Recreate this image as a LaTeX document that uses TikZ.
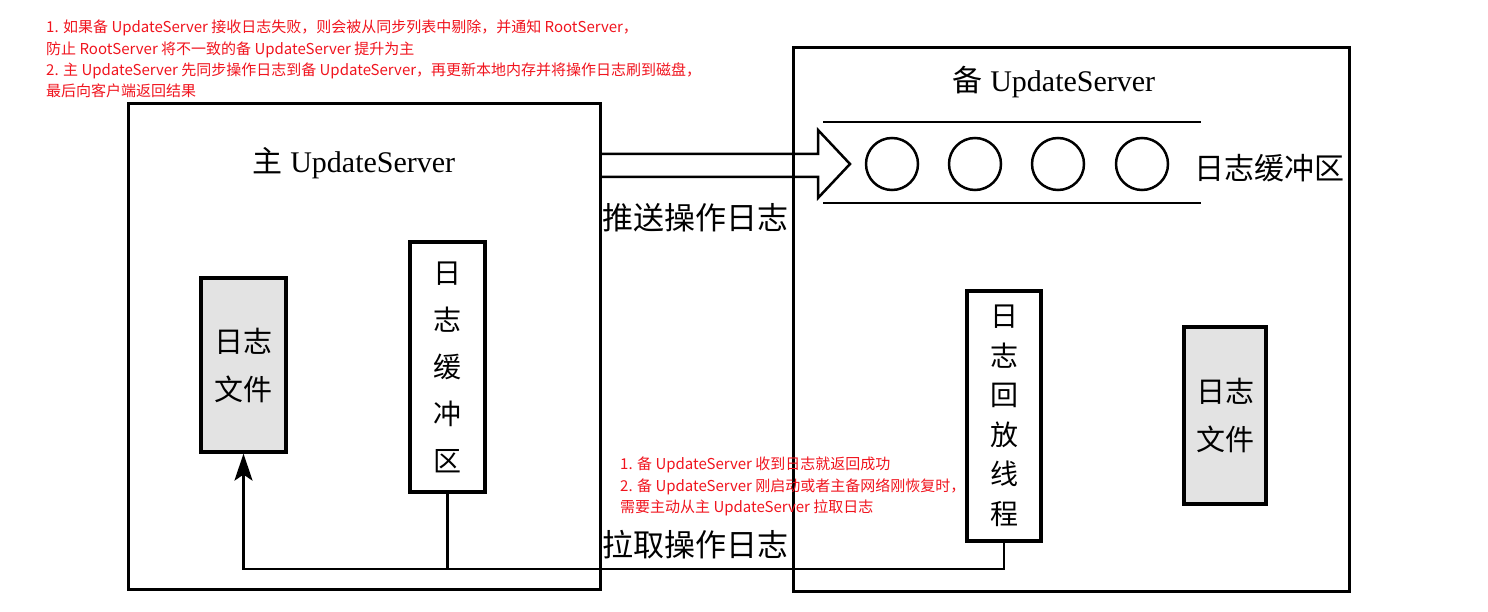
\documentclass[tikz,border=0pt]{standalone}
\usepackage{fontspec}
\setmainfont{Liberation Serif}
\newfontfamily\cjk{Noto Sans CJK SC}
\usetikzlibrary{arrows.meta}
\definecolor{notered}{RGB}{240,20,30}
\definecolor{filegray}{RGB}{227,227,227}
\newcommand{\setsz}[2]{\fontsize{#1}{#2}\selectfont}
\begin{document}
\begin{tikzpicture}[x=1pt,y=-1pt,
    server/.style={draw,line width=3pt,inner sep=0pt},
    part/.style={draw,line width=3.2pt,inner sep=0pt,align=center,font={\cjk\setsz{28}{47}}},
    logfile/.style={part,fill=filegray,font={\cjk\setsz{29}{48}}},
    note/.style={anchor=north west,align=left,inner sep=0pt,text=notered,font={\cjk\setsz{15}{21.3}}},
    title/.style={inner sep=0pt,font={\setsz{30}{36}}},
    biglabel/.style={inner sep=0pt,font={\cjk\setsz{31}{36}}},
    flow/.style={line width=2.5pt}]
    \useasboundingbox (0,0) rectangle (1488,612);
    \node[server,minimum width=472,minimum height=485] (master) at (364,346.5){};
    \node[server,minimum width=556,minimum height=543] (slave) at (1071,319.5){};
    \node[title] (mastertitle) at (354,163){{\cjk 主} UpdateServer};
    \node[title] (slavetitle) at (1054,82){{\cjk 备} UpdateServer};
    \draw[flow] (823,122)--(1201,122);
    \draw[flow] (823,203)--(1201,203);
    \foreach \i/\x in {1/892,2/975,3/1058,4/1142}
        \node[draw,circle,flow,minimum size=52,inner sep=0pt] (slot\i) at (\x,164){};
    \node[biglabel,font={\cjk\setsz{30}{36}}] (queuelabel) at (1269,168){日志缓冲区};
    \draw[flow,line join=miter] (master.east |- 0,154)--(818,154)--(818,130)--(850,164)--(818,198)--(818,177)--(master.east |- 0,177);
    \node[biglabel] (pushlabel) at (695,218){推送操作日志};
    \node[biglabel] (pulllabel) at (695,545){拉取操作日志};
    \node[logfile,minimum width=85,minimum height=174] (masterfile) at (243.5,365){日志\\文件};
    \node[part,minimum width=75,minimum height=250] (masterbuf) at (447.5,367){日\\志\\缓\\冲\\区};
    \node[part,minimum width=74,minimum height=250,font={\cjk\setsz{28}{39.5}}] (replay) at (1004,416){日\\志\\回\\放\\线\\程};
    \node[logfile,minimum width=82,minimum height=177] (slavefile) at (1225,415.5){日志\\文件};
    \coordinate (pully) at (0,569);
    \draw[flow] (masterbuf.south)--(masterbuf.south |- pully);
    \draw[flow,-{Stealth[length=27pt,width=18pt,inset=6pt]}] (replay.south) |- (masterfile.south |- pully)--(masterfile.south);
    \node[note] (pushnote) at (46,20){1. 如果备 UpdateServer 接收日志失败，则会被从同步列表中剔除，并通知 RootServer，\\防止 RootServer 将不一致的备 UpdateServer 提升为主\\2. 主 UpdateServer 先同步操作日志到备 UpdateServer，再更新本地内存并将操作日志刷到磁盘，\\最后向客户端返回结果};
    \node[note] (pullnote) at (620,457){1. 备 UpdateServer 收到日志就返回成功\\2. 备 UpdateServer 刚启动或者主备网络刚恢复时，\\需要主动从主 UpdateServer 拉取日志};
\end{tikzpicture}
\end{document}
